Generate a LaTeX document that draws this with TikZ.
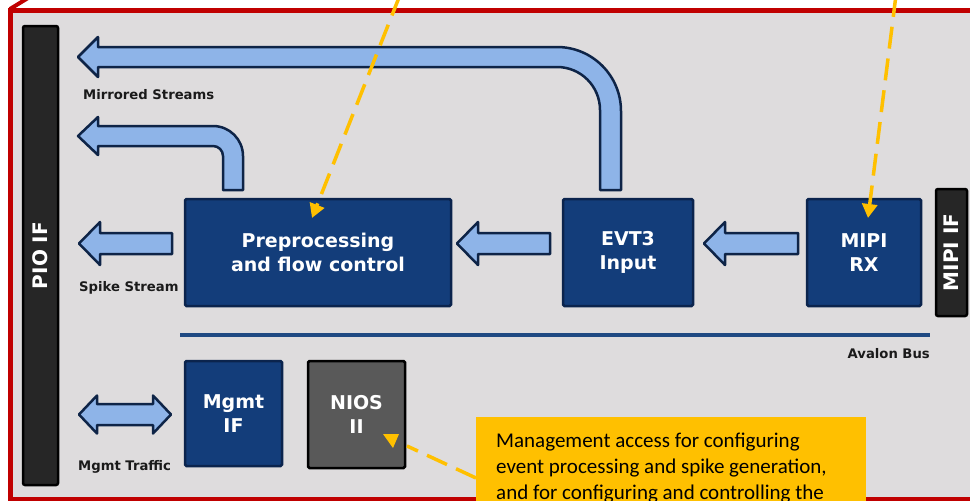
\documentclass[tikz,border=0pt]{standalone}
\usepackage{fontspec}
\setmainfont{DejaVu Sans}
\newfontfamily\calfont{Carlito}
\usetikzlibrary{arrows.meta}
\definecolor{bg}{RGB}{222,220,221}
\definecolor{framered}{RGB}{192,0,0}
\definecolor{boxblue}{RGB}{19,61,122}
\definecolor{boxline}{RGB}{11,36,77}
\definecolor{arrfill}{RGB}{142,180,232}
\definecolor{arrline}{RGB}{14,36,71}
\definecolor{barfill}{RGB}{38,38,38}
\definecolor{niosfill}{RGB}{89,89,89}
\definecolor{yel}{RGB}{255,192,0}
\definecolor{busblue}{RGB}{31,73,130}
\definecolor{labeltext}{RGB}{26,26,26}
\newcommand\blkarrowL[3]{%
  \draw[barrow] (#1,#3) -- (#1+21,#3+21.5) -- (#1+21,#3+10.5) -- (#2,#3+10.5)
    -- (#2,#3-10.5) -- (#1+21,#3-10.5) -- (#1+21,#3-21.5) -- cycle;}
\begin{document}
\begin{tikzpicture}[x=1pt,y=1pt,
  blk/.style={draw=boxline, fill=boxblue, line width=2.5pt, text=white,
    font=\bfseries\fontsize{19}{24}\selectfont, align=center, inner sep=0pt,
    rounded corners=1.5pt},
  niosbox/.style={blk, draw=black, fill=niosfill},
  ifbar/.style={draw=black, fill=barfill, line width=2.5pt, text=white,
    font=\bfseries\fontsize{20}{24}\selectfont, inner sep=0pt, rounded corners=2pt, rotate=90},
  barrow/.style={draw=arrline, fill=arrfill, line width=2.5pt, line join=round},
  lbl/.style={font=\bfseries\fontsize{13.2}{15}\selectfont, text=labeltext, inner sep=0pt},
  ydash/.style={draw=yel, line width=3.5pt, dash pattern=on 22pt off 10pt},
  ytip/.style={-{Triangle[length=14pt,width=15pt]}},
  ctext/.style={font=\calfont\fontsize{21}{25}\selectfont, text=black, inner sep=0pt, anchor=base west}
]
\useasboundingbox (0,0) rectangle (970,-501);
\clip (0,0) rectangle (970,-501);
\fill[white] (0,0) rectangle (970,-501);
% frame
\draw[framered, line width=5pt, fill=bg] (10.5,-10.5) rectangle (990,-499.5);
\draw[framered, line width=4pt] (10,-9) -- (28,2);

% interface bars
\node[ifbar, minimum width=459pt, minimum height=35pt] (pio) at (40.5,-255.5) {PIO IF};
\node[ifbar, minimum width=127pt, minimum height=31pt] (mipiif) at (951.5,-252.5) {MIPI IF};

% blocks
\node[blk, minimum width=266pt, minimum height=107pt] (prep) at (318,-252.5) {Preprocessing\\and flow control};
\node[blk, minimum width=130pt, minimum height=107pt] (evt) at (628,-252.5) {EVT3\\Input};
\node[blk, minimum width=114pt, minimum height=107pt] (mipirx) at (864,-252.5) {MIPI\\RX};
\node[blk, minimum width=97pt, minimum height=105pt] (mgmt) at (233.5,-413.5) {Mgmt\\IF};
\node[niosbox, minimum width=97pt, minimum height=107pt] (nios) at (356.5,-414.5) {NIOS\\II};

% bus
\coordinate (busL) at (180,-335);
\coordinate (busR) at (930,-335);
\draw[busblue, line width=4pt] (busL) -- (busR);

% block arrows
\draw[barrow] (600,-190) -- (600,-110) arc[start angle=0, end angle=90, radius=43]
  -- (98,-67) -- (98,-77) -- (78,-57) -- (98,-37) -- (98,-47) -- (557,-47)
  arc[start angle=90, end angle=0, radius=64] -- (621,-190) -- cycle;
\draw[barrow] (223,-190) -- (223,-156) arc[start angle=0, end angle=90, radius=10]
  -- (98,-146) -- (98,-155) -- (78,-136) -- (98,-117) -- (98,-126) -- (213,-126)
  arc[start angle=90, end angle=0, radius=30] -- (243,-190) -- cycle;
\blkarrowL{79}{172}{-243.5}
\blkarrowL{457}{550}{-243.5}
\blkarrowL{704}{798}{-243.5}
\draw[barrow] (79,-414.5) -- (97,-395.5) -- (97,-404) -- (153,-404) -- (153,-395.5)
  -- (171,-414.5) -- (153,-433.5) -- (153,-425) -- (97,-425) -- (97,-433.5) -- cycle;

% labels
\node[lbl, anchor=base west] (lmir) at (83,-99) {Mirrored Streams};
\node[lbl, anchor=base west] (lspk) at (79,-291) {Spike Stream};
\node[lbl, anchor=base west] (lmgt) at (78,-470) {Mgmt Traffic};
\node[lbl, anchor=base east] (lava) at (930,-358) {Avalon Bus};

% callout
\node[fill=yel, minimum width=390pt, minimum height=95pt, anchor=north west, inner sep=0pt] (callout) at (476,-417) {};
\node[ctext] (c1) at (496,-447) {Management access for configuring};
\node[ctext] (c2) at (496,-473) {event processing and spike generation,};
\node[ctext] (c3) at (496,-499) {and for configuring and controlling the};

% yellow pointers
\coordinate (t1) at (400,5);
\coordinate (t2) at (896,5);
\coordinate (p1) at (312,-218);
\coordinate (p2) at (868,-218);
\coordinate (cw) at (476,-478);
\coordinate (nw) at (407,-446);
\draw[ydash, ytip] (t1) -- (p1);
\draw[ydash, ytip] (t2) -- (p2);
\draw[ydash] (cw) -- (nw);
\fill[yel] (383,-434) -- (399,-434) -- (393,-448) -- cycle;
\end{tikzpicture}
\end{document}
